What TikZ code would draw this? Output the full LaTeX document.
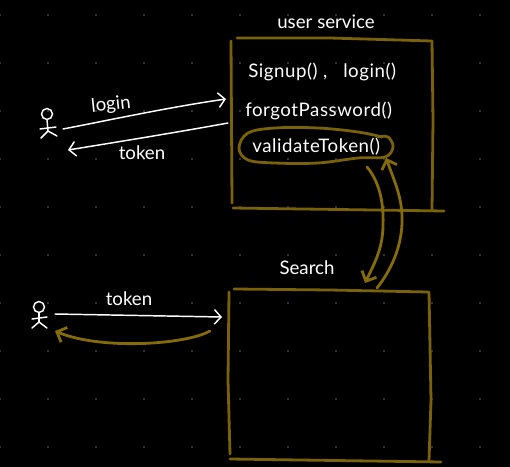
\documentclass[tikz,border=0pt]{standalone}
\usepackage{fontspec}
\setmainfont{Lato}
\usetikzlibrary{arrows.meta,calc}
\definecolor{boxgold}{HTML}{7A6208}
\definecolor{linkgold}{HTML}{856C08}
\definecolor{griddot}{HTML}{6A6A6A}
\tikzset{
  boxline/.style={draw=boxgold,line width=2.1pt,line cap=round},
  linkarrow/.style={draw=linkgold,line width=2.1pt,line cap=round,-{Straight Barb[length=6pt,width=12pt]}},
  whitearrow/.style={draw=white,line width=1.1pt,line cap=round,-{Straight Barb[length=5pt,width=11pt]}},
  stick/.style={draw=white,line width=1.1pt,line cap=round},
  txt/.style={text=white,inner sep=0pt,font=\fontsize{14}{16}\selectfont},
  txtwide/.style={txt,font=\fontsize{14}{16}\selectfont\addfontfeatures{LetterSpace=3}}
}
\begin{document}
\begin{tikzpicture}[x=0.75pt,y=-0.75pt]
\fill[black] (0,0) rectangle (510,467);
\useasboundingbox (0,0) rectangle (510,467);
\foreach \xx in {0,48,...,480}
  \foreach \yy in {15,63,...,447}
    \fill[griddot] (\xx,\yy) circle (0.8);
% user service box
\draw[boxline] (231,41)--(232,203);
\draw[boxline] (237,38)--(330,38)--(432,41);
\draw[boxline] (432,41)--(433,120)--(432,210);
\draw[boxline] (233,208)--(444,211);
% search box
\draw[boxline] (229,292)--(228,380)--(230,454);
\draw[boxline] (234,289)--(330,290)--(428,292);
\draw[boxline] (429,292)--(431,400)--(429,461);
\draw[boxline] (230,459)--(441,462);
% labels
\node[txt] (userTitle) at (326,22) {user service};
\node[txt] (searchTitle) at (307,268) {Search};
\node[txtwide,anchor=west] (signup) at (248,72) {Signup() ,\hspace{8pt} login()};
\node[txtwide,anchor=west] (forgot) at (245,111) {forgotPassword()};
\node[txtwide,anchor=west] (validate) at (252,147) {validateToken()};
\node[txt,rotate=6] (loginLabel) at (111,105) {login};
\node[txt] (tokenLabelA) at (142,153) {token};
\node[txt] (tokenLabelB) at (129,299) {token};
% ring round validateToken
\draw[boxline] plot[smooth,tension=0.6] coordinates {(382,137) (358,132) (318,128) (275,128) (248,133) (239,148) (248,160) (275,163) (318,163) (358,158) (385,157) (393,147) (388,137) (378,137)};
% arrows between the boxes
\coordinate (searchTop) at (377,288);
\coordinate (ringLow) at (386,158);
\coordinate (ringOut) at (367,167);
\coordinate (searchIn) at (365,283);
\draw[linkarrow] (searchTop) .. controls (395,265) and (403,240) .. (402,215) .. controls (401,195) and (394,180) .. (ringLow);
\draw[linkarrow] (ringOut) .. controls (378,180) and (384,200) .. (383,225) .. controls (383,250) and (372,268) .. (searchIn);
% first actor
\node[circle,draw=white,line width=1.1pt,minimum size=8.2pt,inner sep=0pt] (headA) at (47,114) {};
\coordinate (hipA) at (48,131);
\draw[stick] (headA.south)--(hipA);
\draw[stick] (40,129)--(56,127);
\draw[stick] (41,138)--(hipA)--(57,136);
\coordinate (loginFrom) at (63,129);
\coordinate (loginTo) at (226,99);
\draw[whitearrow] (loginFrom) .. controls (110,120) and (170,107) .. (loginTo);
\coordinate (tokenFrom) at (228,123);
\coordinate (tokenTo) at (68,150);
\draw[whitearrow] (tokenFrom) .. controls (190,130) and (130,140) .. (tokenTo);
% second actor
\node[circle,draw=white,line width=1.1pt,minimum size=8.2pt,inner sep=0pt] (headB) at (39,307) {};
\coordinate (hipB) at (39,322);
\draw[stick] (headB.south)--(hipB);
\draw[stick] (32,319)--(47,317);
\draw[stick] (32,328)--(hipB)--(47,328);
\coordinate (sendFrom) at (55,314);
\coordinate (sendTo) at (222,317);
\draw[whitearrow] (sendFrom)--(sendTo);
\coordinate (backFrom) at (210,331);
\coordinate (backTo) at (55,331);
\draw[linkarrow] (backFrom) .. controls (185,345) and (100,350) .. (backTo);
\end{tikzpicture}
\end{document}
